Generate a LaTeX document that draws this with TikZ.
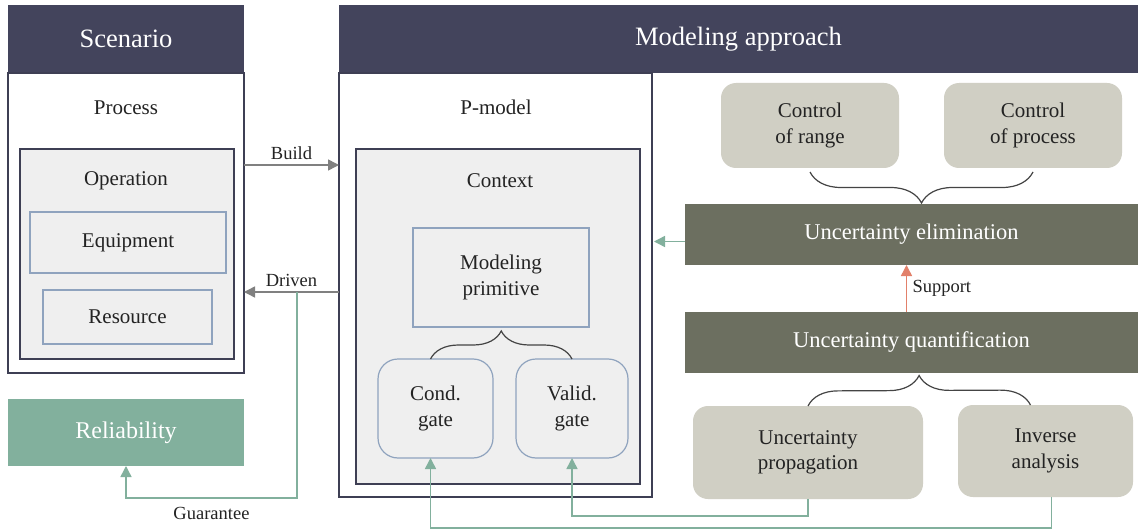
\documentclass[tikz,border=0pt]{standalone}
\usepackage{fontspec}
\setmainfont{Liberation Serif}
\usepackage{tikz}
\usetikzlibrary{arrows.meta,positioning,calc,decorations.pathreplacing}
\definecolor{hdr}{RGB}{67,68,92}
\definecolor{edg}{RGB}{62,63,84}
\definecolor{pane}{RGB}{239,239,239}
\definecolor{bgr}{RGB}{143,163,190}
\definecolor{tea}{RGB}{130,176,157}
\definecolor{oli}{RGB}{108,111,96}
\definecolor{kha}{RGB}{208,207,196}
\definecolor{ora}{RGB}{226,128,106}
\definecolor{gry}{RGB}{128,128,128}
\definecolor{ink}{RGB}{35,35,35}
\newcommand{\fhead}{\fontsize{26.5}{30}\selectfont}
\newcommand{\fbody}{\fontsize{21}{25.5}\selectfont}
\newcommand{\fbar}{\fontsize{22.5}{26}\selectfont}
\newcommand{\flab}{\fontsize{18.5}{22}\selectfont}
\tikzset{
  every node/.style={inner sep=0pt,outer sep=0pt,text=ink},
  txt/.style={font=\fbody,align=center},
  lab/.style={font=\flab,inner sep=3pt},
  header/.style={rectangle,fill=hdr,font=\fhead,text=white},
  frame/.style={rectangle,draw=edg,line width=1.2pt,fill=white},
  inbox/.style={rectangle,draw=edg,line width=1.2pt,fill=pane},
  part/.style={rectangle,draw=bgr,line width=1.2pt,fill=pane,font=\fbody,align=center},
  gatebox/.style={part,rounded corners=20pt},
  bar/.style={rectangle,fill=oli,text=white,font=\fbar},
  pill/.style={rectangle,rounded corners=15pt,fill=kha,font=\fbody,align=center},
  % connectors
  link/.style={-{Triangle[length=11pt,width=11pt]},line width=1.5pt,draw=gry},
  linkt/.style={-{Triangle[length=11pt,width=11pt]},line width=1.5pt,draw=tea},
  linko/.style={-{Triangle[length=11pt,width=11pt]},line width=1.5pt,draw=ora},
  brc/.style={decorate,decoration={brace,amplitude=#1},line width=1.2pt,draw=ink!85},
}

\begin{document}
\begin{tikzpicture}[x=1pt,y=-1pt]
\useasboundingbox[fill=white] (0,0) rectangle (1138,532);

% --- Scenario column ---
\node[header,minimum width=236pt,minimum height=68pt] (sc) at (126,39) {Scenario};
\node[frame,minimum width=236pt,minimum height=300pt] (scb) at (126,223) {};
\node[txt] (tproc) at (126,108) {Process};
\node[inbox,minimum width=214pt,minimum height=210pt] (op) at (127,254) {};
\node[txt] (top) at (126,181) {Operation};
\node[part,minimum width=196pt,minimum height=61pt] (eq) at (128,242.5) {Equipment};
\node[part,minimum width=169pt,minimum height=54pt] (rs) at (127.5,317) {Resource};
\node[rectangle,fill=tea,text=white,font=\fontsize{24}{28}\selectfont,
  minimum width=236pt,minimum height=67pt] (rel) at (126,432.5) {Reliability};

% --- Modeling approach ---
\node[header,minimum width=799pt,minimum height=68pt] (ma) at (738.5,39) {Modeling approach};
\node[frame,minimum width=313pt,minimum height=424pt] (pm) at (495.5,285) {};
\node[txt] (tpm) at (496,107) {P-model};
\node[inbox,minimum width=284pt,minimum height=335pt] (ctx) at (498,316.5) {};
\node[txt] (tctx) at (500,181) {Context};
\node[part,minimum width=176pt,minimum height=99pt] (prim) at (501,277.5) {Modeling\\primitive};
\node[gatebox,minimum width=115pt,minimum height=99pt] (cg) at (435.5,408.5) {Cond.\\gate};
\node[gatebox,minimum width=112pt,minimum height=99pt] (vg) at (572,408.5) {Valid.\\gate};
\draw[brc=28pt] ([xshift=-5pt]cg.north) -- (vg.north);

% --- Uncertainty side ---
\node[pill,minimum width=178pt,minimum height=85pt] (cr) at (810,125.5) {Control\\of range};
\node[pill,minimum width=178pt,minimum height=85pt] (cp) at (1033,125.5) {Control\\of process};
\node[bar,minimum width=453pt,minimum height=61pt] (ue) at (911.5,234.5) {Uncertainty elimination};
\node[bar,minimum width=453pt,minimum height=61pt] (uq) at (911.5,342.5) {Uncertainty quantification};
\node[pill,minimum width=230pt,minimum height=93pt] (up) at (808,452.5) {Uncertainty\\propagation};
\node[pill,minimum width=175pt,minimum height=92pt] (ia) at (1045.5,451) {Inverse\\analysis};
\draw[brc=31pt] ([yshift=-4pt]cp.south) -- ([yshift=-4pt]cr.south);
\draw[brc=30pt] (up.north) -- ([xshift=-15pt]ia.north);

% arrows
\coordinate (dv) at (297,292);
\draw[link] (scb.east |- 0,165) -- node[lab,above=2pt] (lbuild) {Build} (pm.west |- 0,165);
\draw[link] (pm.west |- dv) -- node[lab,above=2pt] (ldriven) {Driven} (scb.east |- dv);
\draw[linkt] (dv) -- ++(0,206) -| node[lab,pos=0.25,below=6pt] (lguar) {Guarantee} (rel.south);
\draw[linkt] ([yshift=-7pt]ue.west) -- ([xshift=2pt,yshift=-7pt]pm.east |- ue.west);
\draw[linko] ([xshift=-5pt]uq.north) -- node[lab,right=3pt] (lsup) {Support} ([xshift=-5pt]ue.south);
\draw[linkt] ([xshift=6pt]ia.south) -- ++(0,31) -| ([xshift=-5pt]cg.south);
\draw[linkt] (up.south) -- ++(0,17) -| (vg.south);
\end{tikzpicture}
\end{document}
